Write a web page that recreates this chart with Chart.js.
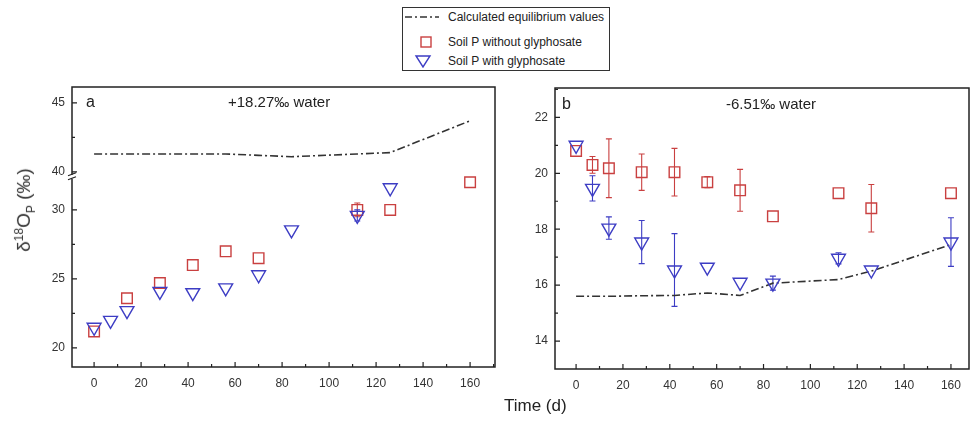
<!DOCTYPE html>
<html><head><meta charset="utf-8">
<script src="https://cdn.jsdelivr.net/npm/chart.js@4/dist/chart.umd.min.js"></script>
<style>
html,body{margin:0;padding:0;background:#fff;}
body{width:971px;height:427px;position:relative;overflow:hidden;font-family:"Liberation Sans",Arial,sans-serif;color:#222;}
#wa{position:absolute;left:0;top:0;width:500px;height:400px;}
#wb{position:absolute;left:500px;top:0;width:471px;height:400px;}
.lbl{position:absolute;white-space:nowrap;line-height:1;}
#legend{position:absolute;left:402px;top:7px;width:206px;height:62px;border:1.3px solid #333;background:#fff;font-size:12px;}
#legend .row{position:absolute;left:0;height:14px;}
#legend svg{position:absolute;left:0;top:0;}
#legend span{position:absolute;left:45px;top:0;white-space:nowrap;}
#ytitle{position:absolute;left:25px;top:210px;transform:translate(-50%,-50%) rotate(-90deg);font-size:19px;white-space:nowrap;color:#333;}
#ytitle sup,#ytitle sub{font-size:12px;}
</style>
</head><body>
<div id="wa"><canvas id="ca" width="500" height="400"></canvas></div>
<div id="wb"><canvas id="cb" width="471" height="400"></canvas></div>

<div class="lbl" style="left:86px;top:94px;font-size:16px;">a</div>
<div class="lbl" style="left:228px;top:94px;font-size:15px;">+18.27‰ water</div>
<div class="lbl" style="left:562px;top:96px;font-size:16px;">b</div>
<div class="lbl" style="left:726px;top:96px;font-size:15px;">-6.51‰ water</div>
<div id="ytitle">δ<sup>18</sup>O<sub>P</sub> (‰)</div>
<div class="lbl" style="left:504px;top:397px;font-size:17px;">Time (d)</div>

<div id="legend">
  <div class="row" style="top:2px;"><svg width="44" height="14"><line x1="2" y1="7" x2="36" y2="7" stroke="#333" stroke-width="1.4" stroke-dasharray="7,3,2,3"/></svg><span>Calculated equilibrium values</span></div>
  <div class="row" style="top:27px;"><svg width="44" height="14"><rect x="18" y="2" width="10" height="10" fill="none" stroke="#c94040" stroke-width="1.4"/></svg><span>Soil P without glyphosate</span></div>
  <div class="row" style="top:46px;"><svg width="44" height="14"><polygon points="13,2 27,2 20,13" fill="none" stroke="#3d3dc4" stroke-width="1.4"/></svg><span>Soil P with glyphosate</span></div>
</div>

<script>
// ---- data ----
const days = [0, 7, 14, 28, 42, 56, 70, 84, 112, 126, 160];
const xTicks = [0, 20, 40, 60, 80, 100, 120, 140, 160];

// Panel a (+18.27‰ water)
const aEquil   = [41.3, 41.3, 41.3, 41.3, 41.3, 41.3, 41.2, 41.1, 41.3, 41.4, 43.7];
const aNoGly   = [21.2, null, 23.6, 24.7, 26.0, 27.0, 26.5, null, 30.0, 30.0, 32.0];
const aNoGlyEr = [0.2, null, 0.3, 0.3, 0.3, 0.2, 0.3, null, 0.5, 0.3, 0.3];
const aGly     = [21.5, 22.0, 22.7, 24.1, 24.0, 24.35, 25.3, 28.55, 29.6, 31.6, null];
const aGlyEr   = [0.2, 0.1, 0.2, 0.3, 0.2, 0.3, 0.3, 0.2, 0.4, 0.2, null];
const aYTicks  = [20, 25, 30, 40, 45];

// Panel b (-6.51‰ water)
const bEquil   = [15.6, 15.6, 15.6, 15.62, 15.63, 15.72, 15.63, 16.07, 16.2, 16.5, 17.45];
const bNoGly   = [20.8, 20.3, 20.18, 20.04, 20.04, 19.68, 19.39, 18.46, 19.29, 18.75, 19.29];
const bNoGlyEr = [0.15, 0.3, 1.05, 0.65, 0.85, 0.2, 0.75, 0.1, 0.1, 0.85, 0.15];
const bGly     = [21.0, 19.46, 18.04, 17.54, 16.54, 16.64, 16.1, 16.07, 16.96, 16.54, 17.54];
const bGlyEr   = [0.15, 0.45, 0.4, 0.77, 1.3, 0.15, 0.1, 0.25, 0.2, 0.1, 0.87];
const bYTicks  = [14, 16, 18, 20, 22];

// broken axis of panel a: values above the break are shifted down
const BREAK_SHIFT = 7.25;
const tA = v => (v == null ? null : (v > 35 ? v - BREAK_SHIFT : v));
const untA = v => (v > 32.4 ? v + BREAK_SHIFT : v);

const RED = '#c94040', BLUE = '#3d3dc4', LINE = '#333';
const FONT = "'Liberation Sans', Arial, sans-serif";

const pts = (arr, f) => days.map((d, i) => ({x: d, y: f ? f(arr[i]) : arr[i]}));

// plugin: frame, inward ticks, error bars, axis break
const decor = {
  id: 'decor',
  beforeDatasetsDraw(chart, args, o) {
    const ctx = chart.ctx, xs = chart.scales.x, ys = chart.scales.y;
    ctx.save();
    (o.errors || []).forEach(e => {
      ctx.strokeStyle = e.color; ctx.lineWidth = 1.1;
      days.forEach((d, i) => {
        const v = e.vals[i], er = e.err[i];
        if (v == null || !er) return;
        const px = xs.getPixelForValue(d);
        const pt = ys.getPixelForValue(e.f(v + er)), pb = ys.getPixelForValue(e.f(v - er));
        if (pb - pt < 9) return; // hidden inside the marker
        ctx.beginPath();
        ctx.moveTo(px, pt); ctx.lineTo(px, pb);
        ctx.moveTo(px - 3, pt); ctx.lineTo(px + 3, pt);
        ctx.moveTo(px - 3, pb); ctx.lineTo(px + 3, pb);
        ctx.stroke();
      });
    });
    ctx.restore();
  },
  afterDraw(chart, args, o) {
    const ctx = chart.ctx, ca = chart.chartArea, xs = chart.scales.x, ys = chart.scales.y;
    ctx.save();
    ctx.strokeStyle = '#222'; ctx.lineWidth = 1.5;
    ctx.strokeRect(ca.left, ca.top, ca.right - ca.left, ca.bottom - ca.top);
    ctx.lineWidth = 1.2;
    ctx.beginPath();
    o.xMajor.forEach(v => { const p = xs.getPixelForValue(v); ctx.moveTo(p, ca.bottom); ctx.lineTo(p, ca.bottom - 5); });
    o.xMinor.forEach(v => { const p = xs.getPixelForValue(v); if (p > ca.left && p < ca.right) { ctx.moveTo(p, ca.bottom); ctx.lineTo(p, ca.bottom - 3); } });
    o.yMajor.forEach(v => { const p = ys.getPixelForValue(v); ctx.moveTo(ca.left, p); ctx.lineTo(ca.left + 5, p); });
    o.yMinor.forEach(v => { const p = ys.getPixelForValue(v); if (p > ca.top && p < ca.bottom) { ctx.moveTo(ca.left, p); ctx.lineTo(ca.left + 3, p); } });
    ctx.stroke();
    if (o.breakAt != null) {
      const p = ys.getPixelForValue(o.breakAt);
      ctx.fillStyle = '#fff';
      ctx.fillRect(ca.left - 3, p - 2, 6, 4);
      ctx.beginPath();
      ctx.moveTo(ca.left - 4, p - 1); ctx.lineTo(ca.left + 4, p - 4);
      ctx.moveTo(ca.left - 4, p + 3); ctx.lineTo(ca.left + 4, p);
      ctx.stroke();
    }
    ctx.restore();
  }
};

function makeChart(id, cfg) {
  const minors = [];
  for (let v = 10; v <= 170; v += 20) minors.push(v);
  return new Chart(document.getElementById(id), {
    type: 'line',
    data: {
      datasets: [
        {label: 'Calculated equilibrium values', data: cfg.equil, borderColor: LINE, borderWidth: 1.6,
         borderDash: [8, 3, 2, 3], pointRadius: 0, fill: false, tension: 0, order: 3},
        {label: 'Soil P without glyphosate', data: cfg.noGly, showLine: false, pointStyle: 'rect',
         pointRadius: 7.5, pointBorderWidth: 1.4, pointBorderColor: RED, pointBackgroundColor: 'rgba(0,0,0,0)', order: 2},
        {label: 'Soil P with glyphosate', data: cfg.gly, showLine: false, pointStyle: 'triangle', pointRotation: 180,
         pointRadius: 8, pointBorderWidth: 1.4, pointBorderColor: BLUE, pointBackgroundColor: 'rgba(0,0,0,0)', order: 1}
      ]
    },
    options: {
      responsive: false, animation: false, spanGaps: false,
      layout: {autoPadding: false, padding: {top: cfg.padTop, right: cfg.padRight, left: 0, bottom: 0}},
      plugins: {
        legend: {display: false}, tooltip: {enabled: false},
        decor: {xMajor: xTicks, xMinor: minors, yMajor: cfg.yMajor, yMinor: cfg.yMinor,
                breakAt: cfg.breakAt, errors: cfg.errors}
      },
      scales: {
        x: {type: 'linear', min: cfg.xMin, max: cfg.xMax,
            grid: {display: false, drawTicks: false}, border: {display: false},
            afterBuildTicks: s => { s.ticks = xTicks.map(v => ({value: v})); },
            afterFit: s => { s.height = cfg.xH; s.paddingLeft = 0; s.paddingRight = 0; },
            ticks: {padding: 9, color: '#333', font: {family: FONT, size: 12}, maxRotation: 0, autoSkip: false}},
        y: {type: 'linear', min: cfg.yMin, max: cfg.yMax,
            grid: {display: false, drawTicks: false}, border: {display: false},
            afterBuildTicks: s => { s.ticks = cfg.yMajor.map(v => ({value: v})); },
            afterFit: s => { s.width = cfg.yW; s.paddingTop = 0; s.paddingBottom = 0; },
            ticks: {padding: 7, color: '#333', font: {family: FONT, size: 12}, autoSkip: false,
                    callback: v => String(cfg.label(v))}}
      }
    },
    plugins: [decor]
  });
}

makeChart('ca', {
  equil: pts(aEquil, tA), noGly: pts(aNoGly, tA), gly: pts(aGly, tA),
  xMin: -9.4, xMax: 170.6, yMin: 18.62, yMax: 38.9,
  yMajor: aYTicks.map(tA), yMinor: [22.5, 27.5, 42.5].map(tA),
  label: v => Math.round(untA(v)), breakAt: 32.4,
  padTop: 87, padRight: 5, xH: 33, yW: 72,
  errors: [{vals: aNoGly, err: aNoGlyEr, color: RED, f: tA}, {vals: aGly, err: aGlyEr, color: BLUE, f: tA}]
});

makeChart('cb', {
  equil: pts(bEquil), noGly: pts(bNoGly), gly: pts(bGly),
  xMin: -9, xMax: 167.7, yMin: 13, yMax: 23.05,
  yMajor: bYTicks, yMinor: [13, 15, 17, 19, 21, 23],
  label: v => v, breakAt: null,
  padTop: 88, padRight: 2, xH: 31, yW: 55,
  errors: [{vals: bNoGly, err: bNoGlyEr, color: RED, f: v => v}, {vals: bGly, err: bGlyEr, color: BLUE, f: v => v}]
});
</script>
</body></html>
